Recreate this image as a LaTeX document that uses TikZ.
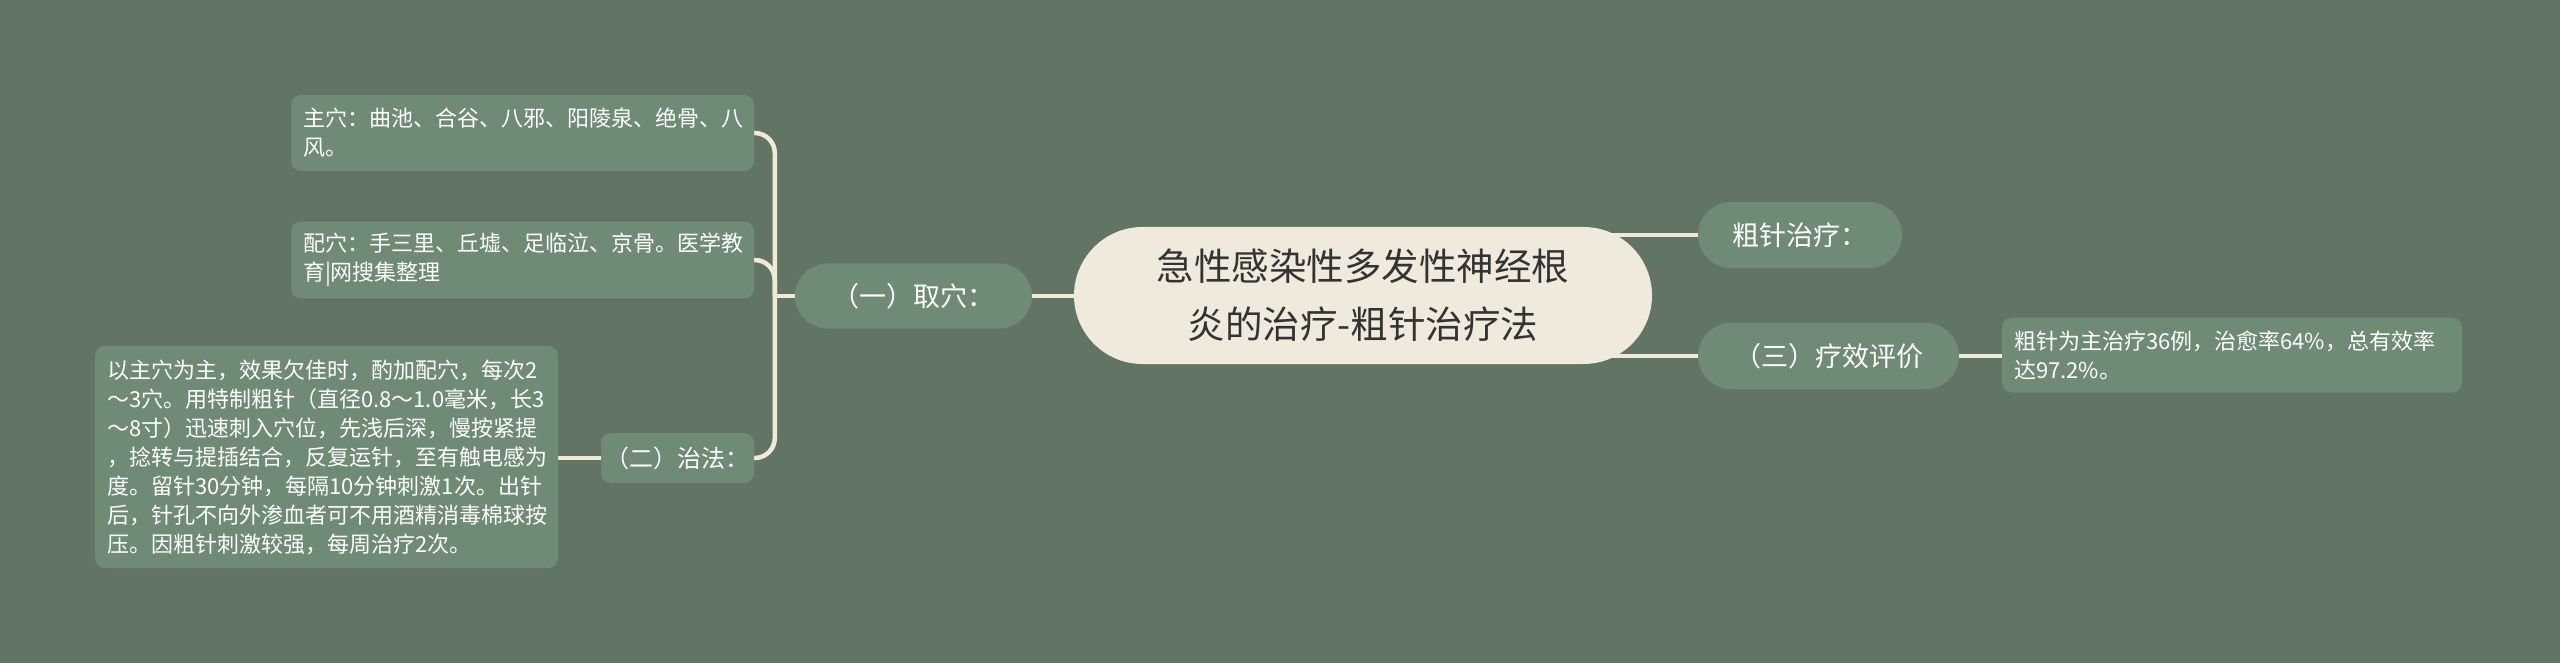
\documentclass[tikz,border=0pt]{standalone}
\usepackage{fontspec}
\setmainfont{Noto Sans CJK SC}
\usetikzlibrary{shapes.misc,backgrounds}
\definecolor{bgc}{HTML}{627564}
\definecolor{nodec}{HTML}{6F8B75}
\definecolor{linec}{HTML}{F0EAD8}
\definecolor{rootc}{HTML}{EFEADB}
\definecolor{roottext}{HTML}{333333}
\begin{document}
\begin{tikzpicture}[x=1pt,y=-1pt,
  conn/.style={draw=linec, line width=4.5pt},
  pill/.style={rounded rectangle, fill=nodec, text=white, inner sep=0pt, font=\fontsize{27pt}{32pt}\selectfont},
  smallpill/.style={rectangle, rounded corners=10pt, fill=nodec, text=white, inner sep=0pt, font=\fontsize{24pt}{28pt}\selectfont},
  textbox/.style={rectangle, rounded corners=10pt, fill=nodec, text=white, align=left, inner xsep=12pt, inner ysep=0pt, text width=439pt, font=\fontsize{22pt}{29pt}\selectfont},
  rootnode/.style={rounded rectangle, fill=rootc, text=roottext, align=center, inner sep=0pt, font=\fontsize{37.5pt}{58pt}\selectfont}]
\useasboundingbox (0,0) rectangle (2560,663);
\begin{scope}[on background layer]
  \fill[bgc] (0,0) rectangle (2560,663);
\end{scope}

\node[rootnode, minimum width=578pt, minimum height=137pt] (root) at (1363,295.5) {急性感染性多发性神经根\\炎的治疗-粗针治疗法};

\node[pill, minimum width=237pt, minimum height=65pt] (qx) at (913.5,296) {（一）取穴：};
\node[textbox, minimum height=76pt] (zx) at (522.5,133) {主穴：曲池、合谷、八邪、阳陵泉、绝骨、八\\风。};
\node[textbox, minimum height=77pt] (px) at (522.5,260) {配穴：手三里、丘墟、足临泣、京骨。医学教\\育|网搜集整理};
\node[smallpill, minimum width=153pt, minimum height=50pt] (zf) at (677.5,458) {（二）治法：};
\node[textbox, minimum height=222pt] (cf) at (326.5,457) {以主穴为主，效果欠佳时，酌加配穴，每次2\\～3穴。用特制粗针（直径0.8～1.0毫米，长3\\～8寸）迅速刺入穴位，先浅后深，慢按紧提\\，捻转与提插结合，反复运针，至有触电感为\\度。留针30分钟，每隔10分钟刺激1次。出针\\后，针孔不向外渗血者可不用酒精消毒棉球按\\压。因粗针刺激较强，每周治疗2次。};

\node[pill, minimum width=204pt, minimum height=66pt] (cz) at (1800,235) {粗针治疗：};
\node[pill, minimum width=261pt, minimum height=66pt] (sx) at (1828.5,356) {（三）疗效评价};
\node[textbox, text width=436pt, minimum height=75pt] (pj) at (2232,355) {粗针为主治疗36例，治愈率64\%，总有效率\\达97.2\%。};

\begin{scope}[on background layer]
  \draw[conn] (qx.east) -- (qx.east -| root.center);
  \coordinate (j1) at ([xshift=-20pt]qx.west);
  \draw[conn] (qx.west) -- (j1);
  \draw[conn, rounded corners=20pt] (j1) |- (zx.east);
  \draw[conn, rounded corners=20pt] (j1) |- (px.east);
  \draw[conn, rounded corners=20pt] (j1) |- (zf.east);
  \draw[conn] (zf.west) -- (zf.west -| cf.east);
  \draw[conn] (cz.west) -- (cz.west -| root.center);
  \draw[conn] (sx.west) -- (sx.west -| root.center);
  \draw[conn] (sx.east) -- (sx.east -| pj.west);
\end{scope}
\end{tikzpicture}
\end{document}
